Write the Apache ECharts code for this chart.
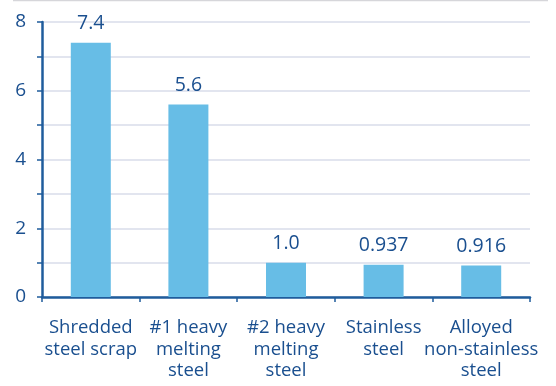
<!DOCTYPE html>
<html>
<head>
<meta charset="utf-8">
<script src="https://cdn.jsdelivr.net/npm/echarts@6/dist/echarts.min.js"></script>
<style>
  html, body { margin: 0; padding: 0; background: #fff; }
  #chart { width: 556px; height: 386px; }
</style>
</head>
<body>
<div id="chart"></div>
<script>
// Scrap categories and their values
const categories = [
  'Shredded\nsteel scrap',
  '#1 heavy\nmelting\nsteel',
  '#2 heavy\nmelting\nsteel',
  'Stainless\nsteel',
  'Alloyed\nnon-stainless\nsteel'
];
const values = [7.4, 5.6, 1.0, 0.937, 0.916];
const valueLabels = ['7.4', '5.6', '1.0', '0.937', '0.916'];
const yTicks = [0, 2, 4, 6, 8];

const navy = '#1a4f8f';
const axisNavy = '#1f5c9c';
const barBlue = '#67bde6';
const gridColor = '#d9dcea';
const font = 'Open Sans';

const chart = echarts.init(document.getElementById('chart'), null, { renderer: 'canvas' });
chart.setOption({
  animation: false,
  backgroundColor: '#ffffff',
  grid: { left: 42, right: 26, top: 22, bottom: 89, containLabel: false },
  graphic: [{
    type: 'line',
    shape: { x1: 13, y1: 0.5, x2: 548, y2: 0.5 },
    style: { stroke: '#d6d6da', lineWidth: 1.5 }
  }],
  xAxis: {
    type: 'category',
    data: categories,
    axisLine: { lineStyle: { color: axisNavy, width: 2.5 } },
    axisTick: { show: true, alignWithLabel: false, length: 5, lineStyle: { color: axisNavy, width: 1.5 } },
    axisLabel: {
      color: navy, fontFamily: font, fontWeight: 500, fontSize: 18.5, lineHeight: 21.5,
      margin: 20, interval: 0
    }
  },
  yAxis: {
    type: 'value',
    min: 0, max: 8, interval: 1,
    axisLine: { show: true, lineStyle: { color: axisNavy, width: 2.5 } },
    axisTick: { show: true, inside: false, length: 5, lineStyle: { color: axisNavy, width: 1.5 } },
    splitLine: { show: true, lineStyle: { color: gridColor, width: 1.5 } },
    axisLabel: {
      color: navy, fontFamily: font, fontWeight: 500, fontSize: 19, margin: 16,
      formatter: v => (yTicks.indexOf(v) >= 0 ? String(v) : '')
    }
  },
  series: [{
    type: 'bar',
    data: values,
    barWidth: 40,
    itemStyle: { color: barBlue },
    label: {
      show: true, position: 'top', distance: 9,
      color: navy, fontFamily: font, fontWeight: 500, fontSize: 19.5,
      formatter: p => valueLabels[p.dataIndex]
    }
  }]
});
</script>
</body>
</html>
